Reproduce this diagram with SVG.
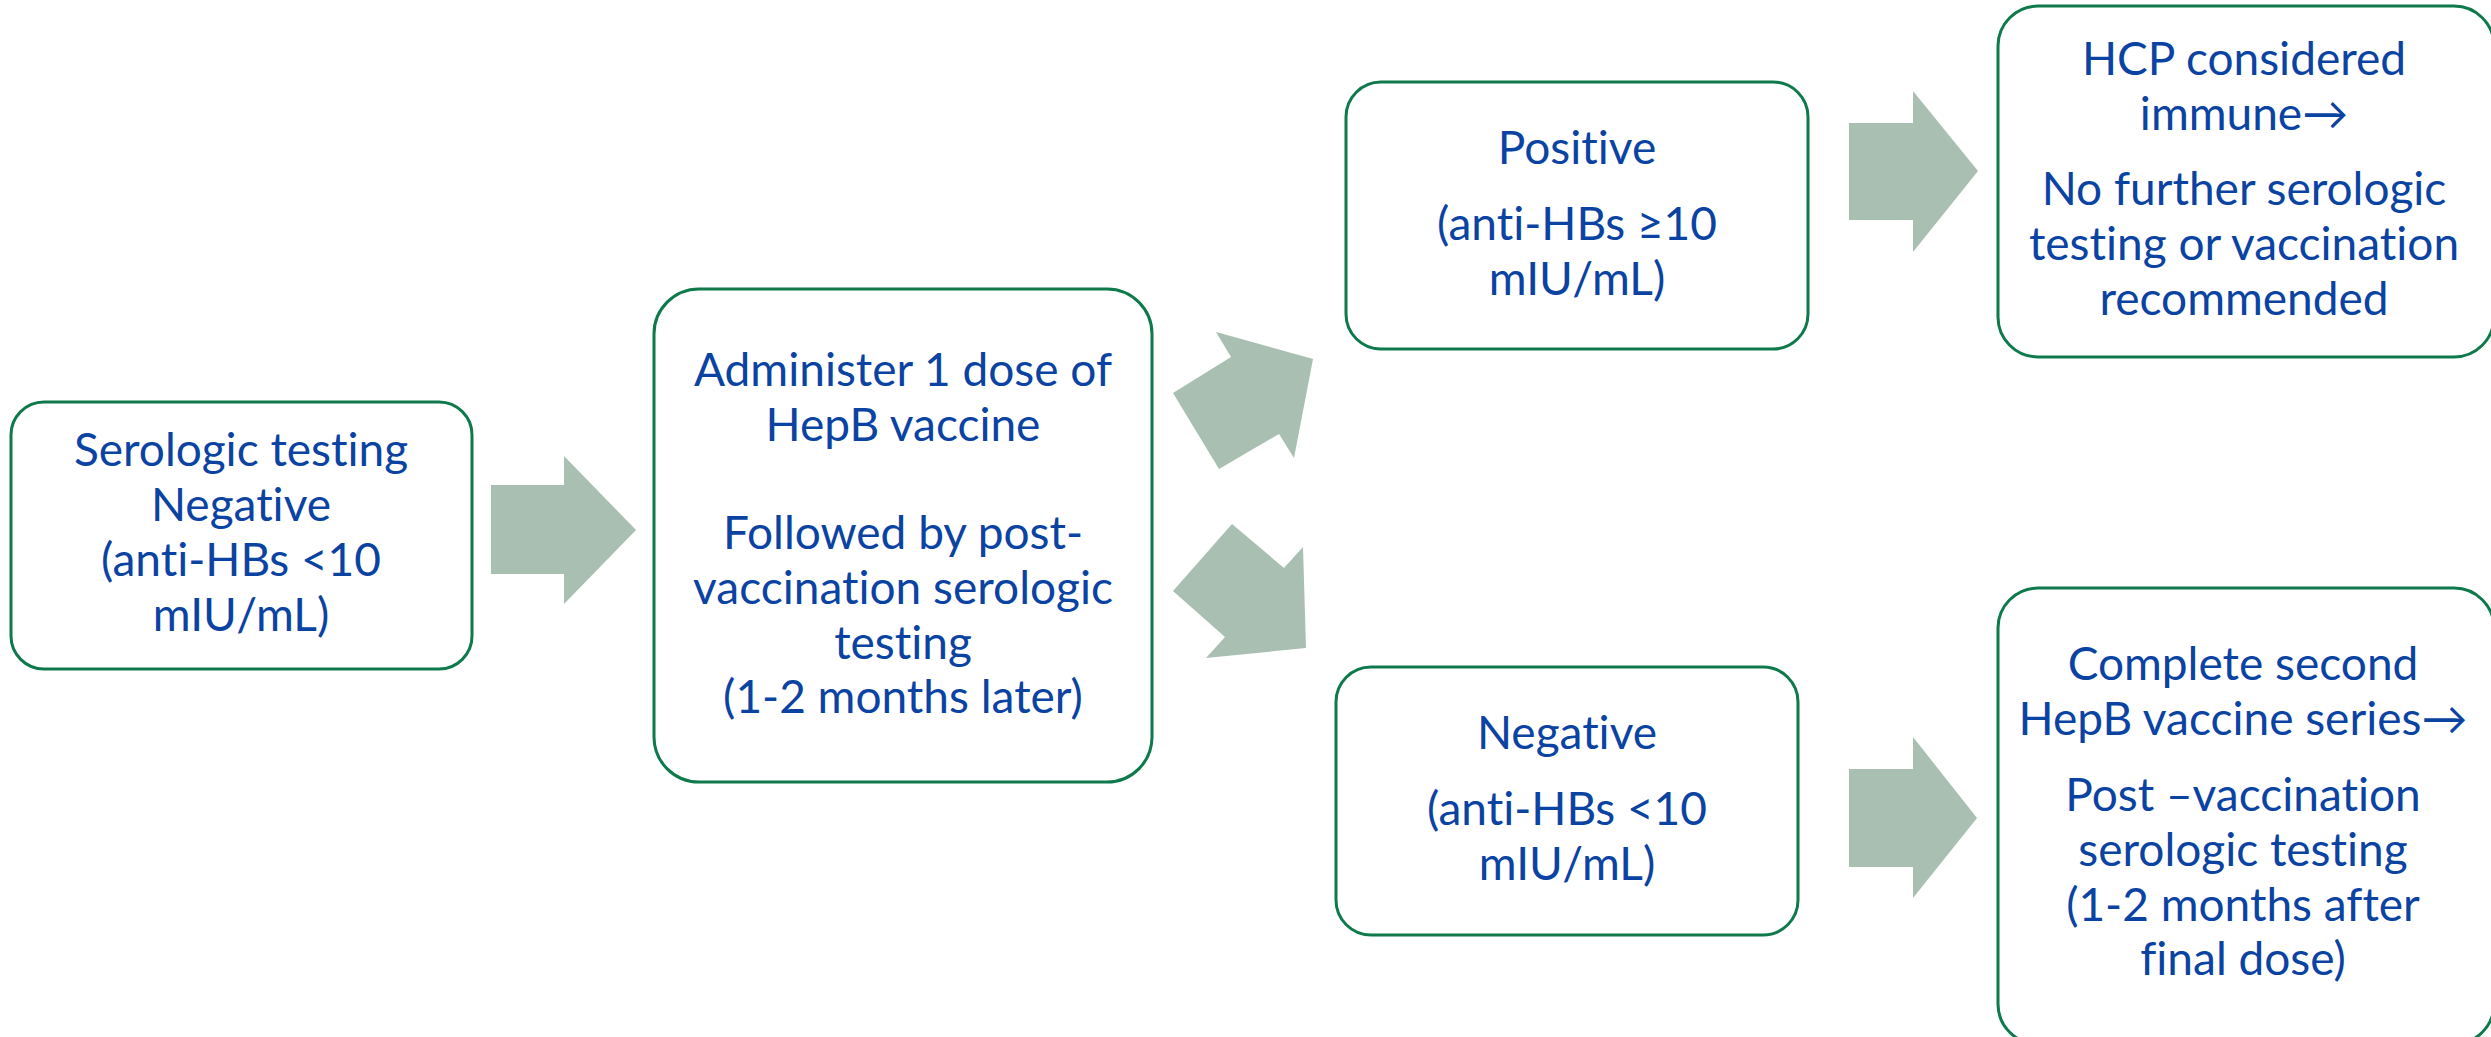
<svg xmlns="http://www.w3.org/2000/svg" width="2491" height="1037" viewBox="0 0 2491 1037">
<style>
.box{fill:#ffffff;stroke:#0E7A4C;stroke-width:3}
.arr{fill:#A9BFB2;stroke:none}
.t{font-family:Lato,"Liberation Sans",sans-serif;font-size:46px;fill:#0B43A3;text-anchor:middle;font-variant-ligatures:none}
</style>
<rect width="2491" height="1037" fill="#ffffff"/>
<g id="connectors">
<polygon class="arr" points="491,485 564,485 564,456 636,530 564,604 564,574 491,574"/>
<polygon class="arr" points="1216,332 1313,359 1294,458 1279,434 1219,469 1173,393 1231,357"/>
<polygon class="arr" points="1232,524 1284,568 1303,547 1306,648 1206,658 1225,637 1173,591"/>
<polygon class="arr" points="1849,123 1913,123 1913,91 1978,171 1913,252 1913,220 1849,220"/>
<polygon class="arr" points="1849,769 1913,769 1913,737 1977,818 1913,898 1913,867 1849,867"/>
</g>
<g id="node-serologic-negative">
<rect class="box" x="11" y="402" width="461" height="267" rx="33" ry="33"/>
<text class="t" x="241" y="466">Serologic testing</text>
<text class="t" x="241" y="521">Negative</text>
<text class="t" x="241" y="576">(anti-HBs &lt;10</text>
<text class="t" x="241" y="631">mIU/mL)</text>
</g>
<g id="node-administer">
<rect class="box" x="654" y="289" width="498" height="493" rx="45" ry="45"/>
<text class="t" x="903" y="386">Administer 1 dose of</text>
<text class="t" x="903" y="441">HepB vaccine</text>
<text class="t" x="903" y="549">Followed by post-</text>
<text class="t" x="903" y="604">vaccination serologic</text>
<text class="t" x="903" y="659">testing</text>
<text class="t" x="903" y="713">(1-2 months later)</text>
</g>
<g id="node-positive">
<rect class="box" x="1346" y="82" width="462" height="267" rx="35" ry="35"/>
<text class="t" x="1577" y="164">Positive</text>
<text class="t" x="1577" y="240">(anti-HBs ≥10</text>
<text class="t" x="1577" y="295">mIU/mL)</text>
</g>
<g id="node-negative">
<rect class="box" x="1336" y="667" width="462" height="268" rx="35" ry="35"/>
<text class="t" x="1567" y="749">Negative</text>
<text class="t" x="1567" y="825">(anti-HBs &lt;10</text>
<text class="t" x="1567" y="880">mIU/mL)</text>
</g>
<g id="node-immune">
<rect class="box" x="1998" y="6" width="496" height="351" rx="40" ry="40"/>
<text class="t" x="2244" y="75">HCP considered</text>
<text class="t" x="2244" y="130">immune→</text>
<text class="t" x="2244" y="205">No further serologic</text>
<text class="t" x="2244" y="260">testing or vaccination</text>
<text class="t" x="2244" y="315">recommended</text>
</g>
<g id="node-second-series">
<rect class="box" x="1998" y="588" width="496" height="456" rx="40" ry="40"/>
<text class="t" x="2243" y="680">Complete second</text>
<text class="t" x="2243" y="735">HepB vaccine series→</text>
<text class="t" x="2243" y="811">Post –vaccination</text>
<text class="t" x="2243" y="866">serologic testing</text>
<text class="t" x="2243" y="921">(1-2 months after</text>
<text class="t" x="2243" y="975">final dose)</text>
</g>
</svg>
